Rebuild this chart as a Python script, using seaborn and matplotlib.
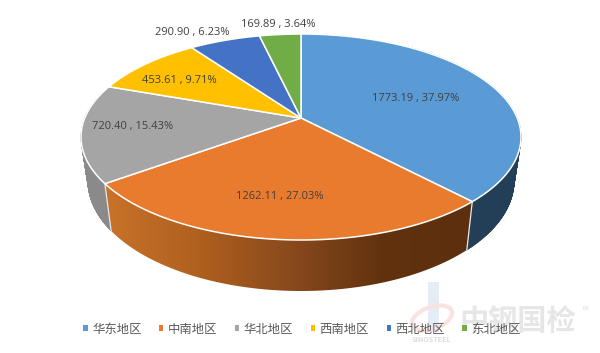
import numpy as np
import matplotlib
matplotlib.use("Agg")
import matplotlib.pyplot as plt
import seaborn as sns
from matplotlib.collections import PolyCollection
from matplotlib.colors import LinearSegmentedColormap
from matplotlib.patches import Polygon, Patch, Ellipse, Rectangle

regioes = ["华东地区", "中南地区", "华北地区", "西南地区", "西北地区", "东北地区"]
valores = [1773.19, 1262.11, 720.40, 453.61, 290.90, 169.89]
rotulos_pct = ["37.97%", "27.03%", "15.43%", "9.71%", "6.23%", "3.64%"]
cores = ["#5B9BD5", "#E97B2E", "#A5A5A5", "#FFC000", "#4472C4", "#70AD47"]

# posicao dos rotulos em pixels da imagem
pos_rotulos = [(416, 99), (280, 196), (133, 127), (179, 80), (192, 33), (278, 24)]

sns.set_theme(style="white")
plt.rcParams["font.family"] = ["Noto Sans CJK SC", "DejaVu Sans"]
paleta = sns.color_palette(cores)

fig, ax = plt.subplots(figsize=(6, 3.53), dpi=100)
ax.set_position([0, 0, 1, 1])
ax.axis("off")

# elipse de cima e de baixo, a = deslocamento do centro do pie (perspectiva)
topo = (301, 137, 220, 103)
base = (301, 181, 213, 110)
a = -0.184


def ponto(th, elipse):
    cx, cy, rx, ry = elipse
    u, v = np.sin(th), -np.cos(th)
    d = 1 + a * v
    return cx + rx * u * np.sqrt(1 - a ** 2) / d, cy + ry * (v + a) / d


def emenda(t, z):
    # risco claro entre duas paredes
    xa, ya = ponto(t, topo)
    xc, yc = ponto(t, base)
    ax.plot([xa, xc], [ya, yc], color="#e8e8e8", lw=0.9, zorder=z)


def parede_lisa(t0, t1, cor, z):
    # parede de cor unica feita de tiras, cobre tambem a tangente lateral
    th = np.linspace(t0, t1, 300)
    xt, yt = ponto(th, topo)
    xb, yb = ponto(th, base)
    tiras = [[(xt[i], yt[i]), (xt[i + 1], yt[i + 1]), (xb[i + 1], yb[i + 1]), (xb[i], yb[i])]
             for i in range(len(th) - 1)]
    ax.add_collection(PolyCollection(tiras, facecolors=cor, edgecolors=cor, linewidths=0.5, zorder=z))


def parede_gradiente(t0, t1, cmap, z):
    th = np.linspace(t0, t1, 200)
    xt, yt = ponto(th, topo)
    xb, yb = ponto(th, base)
    pts = np.r_[np.c_[xt, yt], np.c_[xb, yb][::-1]]
    pol = Polygon(pts, closed=True, fc="none", ec="none", zorder=z)
    ax.add_patch(pol)
    grad = np.linspace(0, 1, 256).reshape(1, -1)
    im = ax.imshow(grad, cmap=cmap, aspect="auto", zorder=z,
                   extent=[pts[:, 0].min(), pts[:, 0].max(), pts[:, 1].max(), pts[:, 1].min()])
    im.set_clip_path(pol)


fracao = np.array(valores) / sum(valores)
limites = np.r_[0, np.cumsum(fracao)] * 2 * np.pi

# paredes visiveis: azul, cinza e laranja
parede_lisa(limites[0] + 0.6, limites[1], "#233f58", 1)
parede_lisa(limites[2], limites[2] + 0.9, "#8a8a8a", 1)
parede_gradiente(limites[1], limites[2],
                 LinearSegmentedColormap.from_list("la", ["#c9722a", "#b0601f", "#8a4a1c", "#62320f", "#5c2f0e"]), 2)
emenda(limites[1], 2.1)
emenda(limites[2], 2.1)

# fatias de cima
for i in range(len(valores)):
    th = np.linspace(limites[i], limites[i + 1], 120)
    x, y = ponto(th, topo)
    x0, y0 = topo[0], topo[1] + topo[3] * a
    pts = np.r_[[[x0, y0]], np.c_[x, y]]
    ax.add_patch(Polygon(pts, closed=True, fc=paleta[i], ec="white", lw=1.1, zorder=3))

for i in range(len(valores)):
    ax.text(pos_rotulos[i][0], pos_rotulos[i][1], f"{valores[i]:.2f} , {rotulos_pct[i]}",
            ha="center", va="center", fontsize=8, color="#404040", zorder=6,
            family="Open Sans")

# marca d'agua
ax.add_patch(Rectangle((428, 282), 11, 50, fc="#e6ecf5", ec="none", zorder=0))
ax.add_patch(Ellipse((432, 318), 42, 22, angle=-20, fc="none", ec="#f8e3e1", lw=3, zorder=0))
ax.text(518, 322, "中钢国检", ha="center", va="center", fontsize=21, color="#e6e6e6", zorder=0,
        family="Noto Sans CJK SC", fontweight="bold")
ax.text(432, 339, "SINOSTEEL", ha="center", va="center", fontsize=5.2, color="#dddddd", zorder=0,
        fontweight="bold")
ax.text(586, 309, "TM", ha="center", va="center", fontsize=4, color="#dddddd", zorder=0)

ax.set_xlim(0, 600)
ax.set_ylim(353, 0)

# legenda
handles = [Patch(fc=paleta[i], ec="none", label=regioes[i]) for i in range(len(regioes))]
leg = ax.legend(handles=handles, ncol=6, loc="center", bbox_to_anchor=(302 / 600, 1 - 329 / 353),
                frameon=False, fontsize=8.9, handlelength=0.35, handleheight=0.35,
                handletextpad=0.37, columnspacing=1.41, labelcolor="#595959", borderpad=0)
leg.set_zorder(7)

fig.savefig("out.png", dpi=100)
